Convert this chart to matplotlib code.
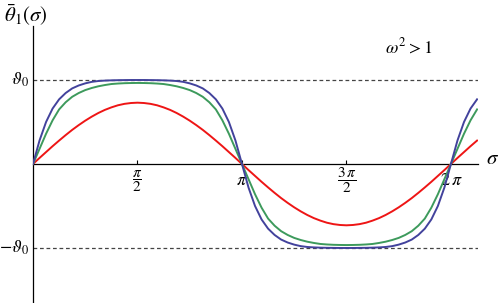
import numpy as np
import matplotlib
matplotlib.use("Agg")
import matplotlib.pyplot as plt

plt.rcParams["mathtext.fontset"] = "stix"
plt.rcParams["font.family"] = ["Liberation Serif", "DejaVu Serif"]

# sigma sampled every pi/32 from 0 to 2*pi + pi/8 (69 points)
sigma = np.arange(69) * np.pi / 32

# curve values (units of theta_0)
red = [0, .072, .142, .212, .279, .344, .406, .463, .516, .564, .607, .644, .674, .699, .716, .726, .730,
       .726, .716, .699, .674, .644, .607, .564, .516, .463, .406, .344, .279, .212, .142, .072, 0,
       -.072, -.142, -.212, -.279, -.344, -.406, -.463, -.516, -.564, -.607, -.644, -.674, -.699, -.716, -.726, -.730,
       -.726, -.716, -.699, -.674, -.644, -.607, -.564, -.516, -.463, -.406, -.344, -.279, -.212, -.142, -.072, 0,
       .072, .142, .212, .279]
green = [0, .18, .36, .52, .65, .735, .80, .845, .88, .905, .925, .94, .952, .958, .962, .964, .965,
         .964, .962, .958, .952, .94, .925, .905, .88, .845, .80, .735, .65, .52, .36, .18, 0,
         -.18, -.36, -.52, -.65, -.735, -.80, -.845, -.88, -.905, -.925, -.94, -.952, -.958, -.962, -.964, -.965,
         -.964, -.962, -.958, -.952, -.94, -.925, -.905, -.88, -.845, -.80, -.735, -.65, -.52, -.36, -.18, 0,
         .18, .36, .52, .65]
blue = [0, .28, .50, .66, .77, .845, .90, .935, .96, .978, .988, .993, .996, .998, .999, 1.0, 1.0,
        1.0, .999, .998, .996, .993, .988, .978, .96, .935, .90, .845, .77, .66, .50, .28, 0,
        -.28, -.50, -.66, -.77, -.845, -.90, -.935, -.96, -.978, -.988, -.993, -.996, -.998, -.999, -1.0, -1.0,
        -1.0, -.999, -.998, -.996, -.993, -.988, -.978, -.96, -.935, -.90, -.845, -.77, -.66, -.50, -.28, 0,
        .28, .50, .66, .77]

xticks = [np.pi / 2, np.pi, 3 * np.pi / 2, 2 * np.pi]
xticklabels = [r"$\dfrac{\pi}{2}$", r"$\pi$", r"$\dfrac{3\,\pi}{2}$", r"$2\,\pi$"]
xticksizes = [11, 13, 11, 13]
yticks = [1.0, -1.0]
yticklabels = [r"$\vartheta_0$", r"$-\vartheta_0$"]

fig = plt.figure(figsize=(5.0, 3.03), dpi=100)
ax = fig.add_axes([33 / 500, 0, 445 / 500, 277 / 303])
ax.set_xlim(0, 6.69)
ax.set_ylim(-1.655, 1.643)

ax.plot(sigma, red, color="#ee1515", lw=1.4, zorder=3)
ax.plot(sigma, green, color="#3d9a5c", lw=1.4, zorder=4)
ax.plot(sigma, blue, color="#42429c", lw=1.4, zorder=5)

for yv in yticks:
    ax.axhline(yv, color="#444444", lw=0.9, dashes=(3, 2.2), zorder=1)

# axes through the origin, Mathematica style
for s in ("top", "right"):
    ax.spines[s].set_visible(False)
ax.spines["bottom"].set_position(("data", 0))
ax.spines["left"].set_position(("data", 0))
for s in ("bottom", "left"):
    ax.spines[s].set_linewidth(0.9)
ax.set_xticks(xticks)
ax.set_xticklabels([])
ax.tick_params(axis="x", direction="in", length=3, width=0.8)
ax.set_yticks([])

for xv, lab, fs in zip(xticks, xticklabels, xticksizes):
    ax.text(xv, -0.2, lab, ha="center", va="center", fontsize=fs, zorder=2)
for yv, lab in zip(yticks, yticklabels):
    ax.text(-0.06, yv, lab, ha="right", va="center", fontsize=13)

fig.text(0.008, 1 - 15 / 303, r"$\bar{\theta}_1(\sigma)$", ha="left", va="center", fontsize=15)
fig.text(486 / 500, 1 - 160 / 303, r"$\sigma$", ha="left", va="center", fontsize=15)
fig.text(0.77, 1 - 47 / 303, r"$\omega^2 > 1$", ha="left", va="center", fontsize=13)

fig.savefig("out.png", dpi=100)
